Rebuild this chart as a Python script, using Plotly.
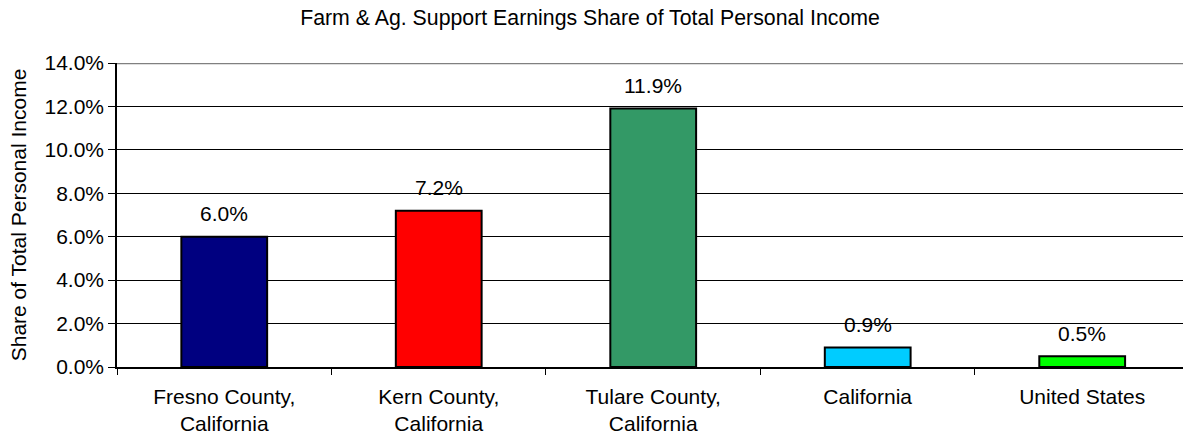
import plotly.graph_objects as go

categories = ["Fresno County,<br>California", "Kern County,<br>California",
              "Tulare County,<br>California", "California", "United States"]
values = [6.0, 7.2, 11.9, 0.9, 0.5]
labels = ["6.0%", "7.2%", "11.9%", "0.9%", "0.5%"]
colors = ["#000080", "#FF0000", "#339966", "#00CCFF", "#00FF00"]
y_ticks = [0, 2, 4, 6, 8, 10, 12, 14]

FONT = "Liberation Sans, Arial, sans-serif"
FS = 21

W, H = 1183, 436

fig = go.Figure()
fig.add_trace(go.Bar(
    x=categories, y=values,
    marker=dict(color=colors, line=dict(color="#000000", width=2)),
    width=0.4, hoverinfo="skip",
))

for c, v, t in zip(categories, values, labels):
    fig.add_annotation(x=c, y=v, text=t, showarrow=False, yanchor="middle",
                       yshift=23, font=dict(family=FONT, size=FS, color="#000000"))

# top border of plot area
fig.add_shape(type="line", xref="paper", yref="y", x0=0, x1=1, y0=14, y1=14,
              line=dict(color="#808080", width=2.5))

fig.update_layout(
    width=W, height=H,
    margin=dict(l=117, r=0, t=63, b=69),
    paper_bgcolor="#FFFFFF", plot_bgcolor="#FFFFFF",
    showlegend=False,
    font=dict(family=FONT, size=FS, color="#000000"),
    title=dict(text="Farm & Ag. Support Earnings Share of Total Personal Income",
               x=590 / W, xanchor="center", y=1 - 18 / H, yanchor="middle",
               font=dict(family=FONT, size=21.3, color="#000000")),
    xaxis=dict(
        range=[-0.5, 4.47], showgrid=False, showline=True, linecolor="#000000",
        linewidth=1.5, ticks="outside", tickson="boundaries", ticklen=6,
        tickcolor="#000000", tickfont=dict(family=FONT, size=FS), fixedrange=True,
        ticklabelstandoff=10, automargin=False,
    ),
    yaxis=dict(
        range=[0, 14], tickvals=y_ticks, ticktext=[f"{v:.1f}%" for v in y_ticks],
        showgrid=True, gridcolor="#000000", gridwidth=1,
        showline=True, linecolor="#000000", linewidth=1.5,
        ticks="outside", ticklen=7, tickcolor="#000000",
        tickfont=dict(family=FONT, size=FS), zeroline=False,
        title=dict(text="Share of Total Personal Income", standoff=12,
                   font=dict(family=FONT, size=FS)),
        fixedrange=True, automargin=False,
    ),
)

fig.write_html(
    "out.html",
    config={"displayModeBar": False},
    post_script="document.body.style.margin='0';",
)
